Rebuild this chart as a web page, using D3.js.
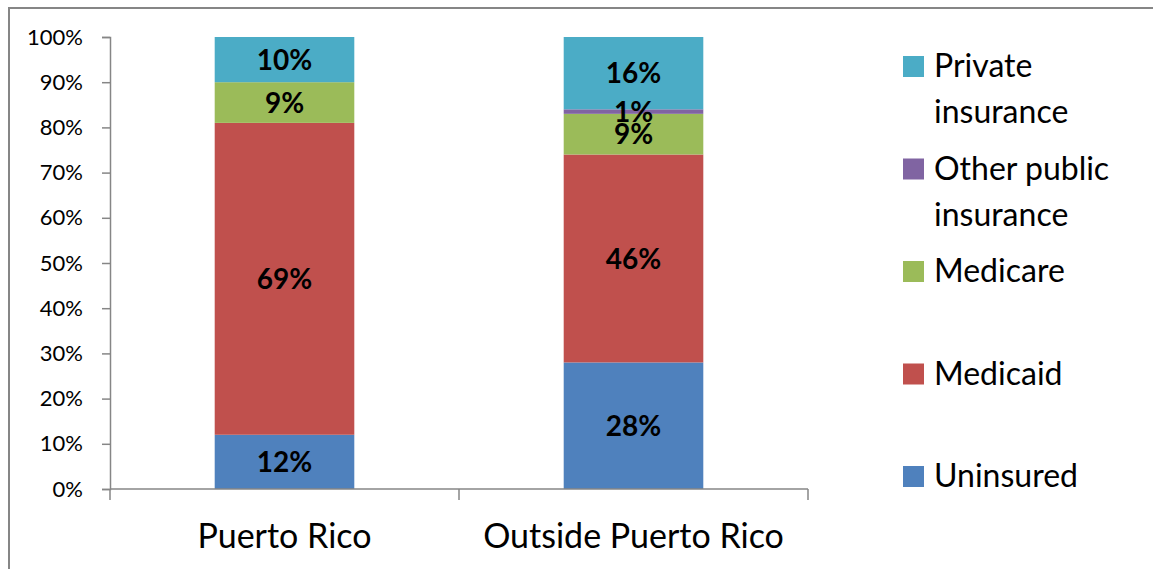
<!DOCTYPE html>
<html>
<head>
<meta charset="utf-8">
<script src="https://cdn.jsdelivr.net/npm/d3@7"></script>
<style>
  html, body { margin: 0; padding: 0; background: #fff; }
  svg { display: block; font-family: Lato, "Open Sans", sans-serif; }
</style>
</head>
<body>
<svg id="chart" width="1153" height="569"></svg>
<script>
// Coverage shares by location (percent of each group)
const categories = ["Puerto Rico", "Outside Puerto Rico"];
const seriesNames = ["Uninsured", "Medicaid", "Medicare", "Other public insurance", "Private insurance"];
const uninsured   = [12, 28];
const medicaid    = [69, 46];
const medicare    = [9, 9];
const otherPublic = [0, 1];
const privateIns  = [10, 16];
const yTicks = [0, 10, 20, 30, 40, 50, 60, 70, 80, 90, 100];

const seriesValues = [uninsured, medicaid, medicare, otherPublic, privateIns];
const colors = ["#4F81BD", "#C0504D", "#9BBB59", "#8064A2", "#4BACC6"];

const rows = categories.map((c, i) => {
  const r = { category: c };
  seriesNames.forEach((s, k) => { r[s] = seriesValues[k][i]; });
  return r;
});
const stacked = d3.stack().keys(seriesNames)(rows);

const svg = d3.select("#chart");

// outer frame
svg.append("rect")
  .attr("x", 9).attr("y", 8).attr("width", 1170).attr("height", 620)
  .attr("fill", "none").attr("stroke", "#868686").attr("stroke-width", 2);

const x = d3.scaleBand().domain(categories).range([110, 808])
  .paddingInner(0.6).paddingOuter(0.3);
const y = d3.scaleLinear().domain([0, 100]).range([489, 37]);

// bars
const layers = svg.append("g").selectAll("g").data(stacked).join("g")
  .attr("fill", (d, i) => colors[i]);
layers.selectAll("rect").data(d => d).join("rect")
  .attr("x", d => x(d.data.category))
  .attr("width", x.bandwidth())
  .attr("y", d => y(d[1]))
  .attr("height", d => y(d[0]) - y(d[1]));

// data labels
const labels = svg.append("g");
stacked.forEach(layer => {
  layer.forEach(d => {
    const v = d[1] - d[0];
    if (v <= 0) return;
    labels.append("text")
      .attr("x", x(d.data.category) + x.bandwidth() / 2)
      .attr("y", (y(d[0]) + y(d[1])) / 2)
      .attr("dy", "0.36em")
      .attr("text-anchor", "middle")
      .attr("font-weight", "bold")
      .attr("font-size", 28)
      .attr("fill", "#000")
      .text(v + "%");
  });
});

// y axis
const yAxis = svg.append("g").attr("transform", "translate(110,0)")
  .call(d3.axisLeft(y).tickValues(yTicks).tickSize(8).tickPadding(19).tickFormat(d => d + "%"));
yAxis.select(".domain").attr("stroke", "#868686").attr("stroke-width", 1.5);
yAxis.selectAll(".tick line").attr("stroke", "#868686").attr("stroke-width", 1.5);
yAxis.selectAll(".tick text").attr("font-size", 22).attr("fill", "#000")
  .attr("font-family", "Lato, 'Open Sans', sans-serif");

// x axis line with boundary ticks
const xAxisG = svg.append("g");
xAxisG.append("line")
  .attr("x1", 110).attr("x2", 808).attr("y1", y(0)).attr("y2", y(0))
  .attr("stroke", "#868686").attr("stroke-width", 1.5);
const bounds = [x.range()[0], (x(categories[0]) + x.bandwidth() + x(categories[1])) / 2, x.range()[1]];
xAxisG.selectAll("line.tk").data(bounds).join("line").attr("class", "tk")
  .attr("x1", d => d).attr("x2", d => d)
  .attr("y1", y(0)).attr("y2", y(0) + 11)
  .attr("stroke", "#868686").attr("stroke-width", 1.5);
xAxisG.selectAll("text").data(categories).join("text")
  .attr("x", d => x(d) + x.bandwidth() / 2)
  .attr("y", 548)
  .attr("text-anchor", "middle")
  .attr("font-size", 34)
  .attr("fill", "#000")
  .text(d => d);

// legend (top to bottom: reverse of stack order)
const legendItems = [
  { name: "Private insurance", lines: ["Private", "insurance"], color: colors[4] },
  { name: "Other public insurance", lines: ["Other public", "insurance"], color: colors[3] },
  { name: "Medicare", lines: ["Medicare"], color: colors[2] },
  { name: "Medicaid", lines: ["Medicaid"], color: colors[1] },
  { name: "Uninsured", lines: ["Uninsured"], color: colors[0] }
];
const legend = svg.append("g");
const lg = legend.selectAll("g").data(legendItems).join("g")
  .attr("transform", (d, i) => `translate(903, ${56 + i * 102.5})`);
lg.append("rect").attr("width", 21).attr("height", 21).attr("fill", d => d.color);
lg.each(function(d) {
  const t = d3.select(this).append("text")
    .attr("x", 31).attr("y", 21)
    .attr("font-size", 32).attr("fill", "#000");
  d.lines.forEach((ln, j) => {
    t.append("tspan").attr("x", 31).attr("dy", j === 0 ? 0 : 46).text(ln);
  });
});
</script>
</body>
</html>
